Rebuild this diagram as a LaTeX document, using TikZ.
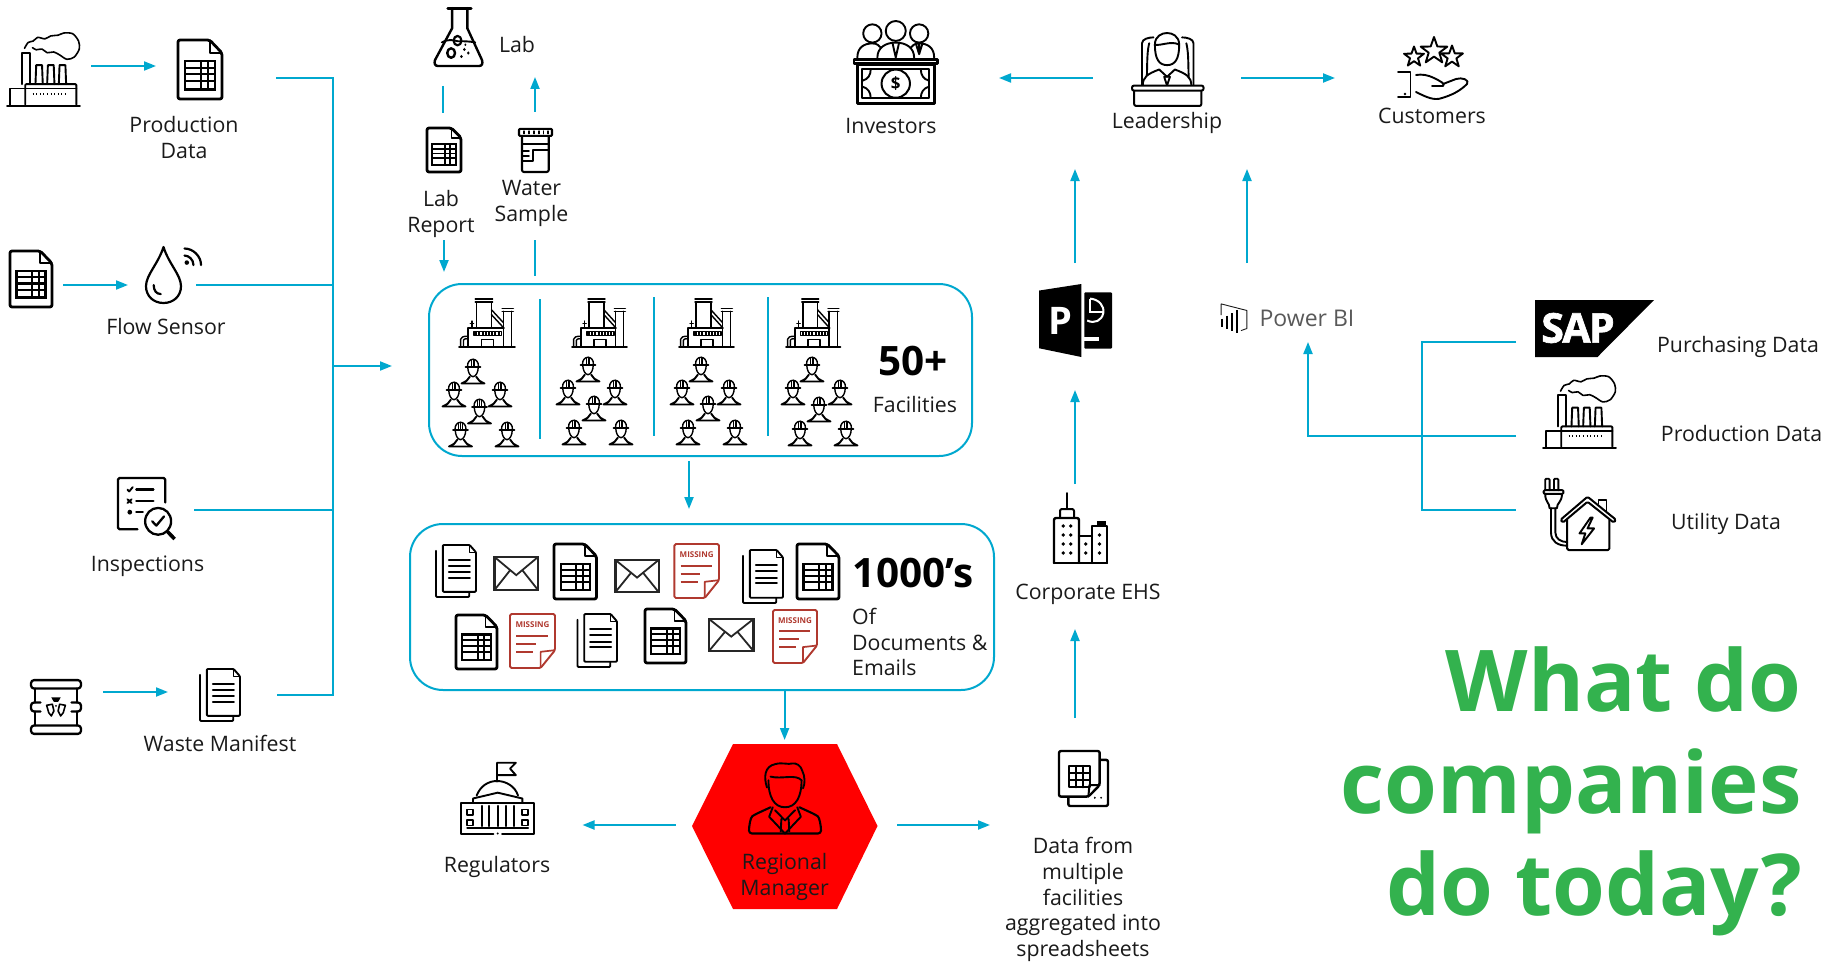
\documentclass[tikz,border=0pt]{standalone}
\usepackage{fontspec}
\setmainfont{Open Sans}
\newfontfamily\sapfont[BoldFeatures={FakeBold=1.6},LetterSpace=-4]{Open Sans}
\usetikzlibrary{arrows.meta}
\definecolor{flow}{HTML}{00A8CF}
\definecolor{ink}{HTML}{1A1A1A}
\definecolor{miss}{HTML}{B0392F}
\definecolor{titlegreen}{HTML}{33B24E}
\newcounter{missc}
\tikzset{
  conn/.style={draw=flow,line width=2pt},
  arrowconn/.style={conn,-{Triangle[length=12pt,width=9pt]}},
  panel/.style={draw=flow,line width=2pt,rounded corners=33pt,rectangle,inner sep=0pt},
  sep/.style={draw=flow,line width=2pt},
  lbl/.style={font=\fontsize{21.3}{25.7}\selectfont,text=ink,align=center,inner sep=0pt},
  big/.style={font=\fontsize{40.5}{46}\selectfont\bfseries,text=black,inner sep=0pt},
  ic/.style={draw=black,line width=1.9pt,line join=round,line cap=round},
  icb/.style={draw=black,line width=2.8pt,line join=round,line cap=round},
  ict/.style={draw=black,line width=1.4pt,line join=round,line cap=round},
}
\newcommand\ico[5]{\pgfmathsetmacro\icw{((#3)-(#1))/100}\pgfmathsetmacro\ich{((#4)-(#2))/100}%
  \begin{scope}[shift={(#1,#2)},x=\icw pt,y=-\ich pt]#5\end{scope}}
% ---------- icons drawn in a 100 x 100 box ----------
\newcommand\smokefactory{%
  \draw[ic] (0,100)--(100,100);
  \draw[ic,rounded corners=1pt] (25,98)--(25,70)--(95,70)--(95,98);
  \draw[ic] (25,76)--(95,76);
  \draw[ic] (4,98)--(4,76)--(25,76);
  \draw[ic] (21,70)--(21,27)--(32,27)--(32,70);
  \draw[ic] (39,70)--(40,44)--(48,44)--(49,70) (55,70)--(56,44)--(64,44)--(65,70) (71,70)--(72,44)--(80,44)--(81,70);
  \draw[line width=2pt,dash pattern=on 1pt off 2.6pt] (35,84)--(84,84);
  \draw[ic,line width=1.6pt] plot[smooth] coordinates {(24,21) (29,13) (36,11) (42,6) (52,8) (60,4) (70,3) (78,0) (90,1) (98,11) (99,22) (92,33) (82,36) (72,30) (64,26) (55,27) (48,22) (40,23) (35,20)};
}
\newcommand\sheeticon{%
  \draw[icb,fill=white,rounded corners=2pt] (0,0)--(72,0)--(100,22)--(100,100)--(0,100)--cycle;
  \draw[ic] (72,0)--(72,22)--(100,22);
  \fill[black] (13,34) rectangle (87,86);
  \foreach \yy/\yb in {38/45,49/56,60/67,71/81}{
    \fill[white] (18,\yy) rectangle (50,\yb);
    \fill[white] (55,\yy) rectangle (66,\yb);
    \fill[white] (71,\yy) rectangle (82,\yb);
  }
}
\newcommand\docstack{%
  \draw[ic,rounded corners=1pt] (0,11)--(0,100)--(83,100)--(83,90);
  \draw[ic,fill=white,rounded corners=1pt] (17,0)--(84,0)--(100,14)--(100,90)--(17,90)--cycle;
  \draw[ict] (84,0)--(84,14)--(100,14);
  \foreach \yy in {28,40,52,63}{\draw[ic] (32,\yy)--(85,\yy);}
}
\newcommand\envelope{%
  \draw[draw=black!85,line width=2.2pt] (0,0) rectangle (100,100);
  \draw[draw=black!85,line width=1.8pt] (0,0)--(50,55)--(100,0) (0,100)--(36,40) (100,100)--(64,40);
}
\newcommand\missingdoc{%
  \stepcounter{missc}%
  \draw[draw=miss,line width=1.9pt,line join=round,rounded corners=1.5pt,fill=white] (0,0)--(100,0)--(100,67)--(68,100)--(0,100)--cycle;
  \draw[draw=miss,line width=1.7pt,line join=round] (100,67)--(68,70)--(68,100);
  \node[text=miss,font=\fontsize{8}{8}\selectfont\bfseries,inner sep=0pt] (missing\themissc) at (50,20) {MISSING};
  \foreach \xe/\yy in {84/40,58/55,52/70}{\draw[draw=miss,line width=1.9pt] (14,\yy)--(\xe,\yy);}
}
\newcommand\worker{%
  \draw[ict,fill=white] (27,34) .. controls (28,55) and (36,70) .. (50,72) .. controls (64,70) and (72,55) .. (73,34);
  \draw[ict] (26,33) .. controls (26,15) and (36,5) .. (50,5) .. controls (64,5) and (74,15) .. (74,33);
  \draw[ic] (18,34)--(82,34);
  \draw[ict,line width=1pt] (42,8)--(42,32) (58,8)--(58,32) (50,4)--(50,32);
  \draw[ic] (0,98)--(22,88)--(36,72) (100,98)--(78,88)--(64,72) (0,98)--(100,98);
}
\newcommand\refinery{%
  \draw[ic] (0,100)--(100,100);
  \draw[ict] (31,8)--(31,60) (58,8)--(58,60) (29,2)--(60,2) (29,8)--(60,8);
  \draw[ict] (79,27)--(79,100) (94,27)--(94,100) (77,22)--(97,22) (77,28)--(97,28);
  \draw[ict] (58,24)--(79,50) (58,34)--(79,60);
  \draw[ic] (16,100)--(16,61)--(80,61);
  \draw[ict] (27,68) rectangle (76,76);
  \draw[line width=3pt,dash pattern=on 2pt off 1.2pt] (29,72)--(74,72);
  \draw[ict] (40,100)--(40,85)--(62,85)--(62,100);
  \draw[ict] (23,47)--(23,61) (20,52)--(26,52);
  \draw[ict] (3,100)--(3,84) .. controls (3,80) and (8,78) .. (15,78) (8,100)--(8,86) .. controls (8,84) and (11,83) .. (15,83);
}
\newcommand\flask{%
  \draw[icb] (28,2)--(76,2);
  \draw[ic,line width=2.4pt] (37,2)--(37,36)--(2,90) .. controls (0,96) and (2,100) .. (8,100)--(92,100) .. controls (98,100) and (100,96) .. (98,90)--(68,36)--(68,2);
  \draw[ic] (16,60) .. controls (30,54) and (38,56) .. (48,58) .. controls (60,58) and (72,58) .. (84,60);
  \draw[ic,line width=2.2pt] (48,57) circle (8);
  \draw[ic,line width=2.4pt] (35,78) circle (8);
  \fill (62,72) circle (2.8) (70,78) circle (2.8) (56,84) circle (2.8) (64,64) circle (2.2);
}
\newcommand\samplejar{%
  \draw[ic,line width=2.1pt,rounded corners=1pt] (0,2) rectangle (100,18);
  \draw[ict] (15,7)--(15,13) (30,7)--(30,13) (45,7)--(45,13) (60,7)--(60,13) (75,7)--(75,13) (88,7)--(88,13);
  \draw[ic,line width=2.1pt,rounded corners=2pt] (9,18)--(9,100)--(90,100)--(90,18);
  \draw[ic] (9,36)--(90,36) (9,76)--(42,76)--(42,50)--(90,50);
  \draw[ic] (9,52)--(30,52) (9,64)--(30,64);
}
\newcommand\drop{%
  \draw[ic,line width=2.2pt] (50,0) .. controls (35,30) and (0,50) .. (0,70) .. controls (0,88) and (22,100) .. (50,100) .. controls (78,100) and (100,88) .. (100,70) .. controls (100,50) and (65,30) .. (50,0) -- cycle;
  \draw[ic,line width=2.2pt] (22,68) .. controls (22,78) and (30,84) .. (42,84);
}
\newcommand\wifi{%
  \fill (20,82) circle (12);
  \draw[ic,line width=2.2pt] (8,45) .. controls (30,45) and (55,65) .. (55,95);
  \draw[ic,line width=2.2pt] (8,8) .. controls (55,8) and (95,50) .. (95,95);
}
\newcommand\inspect{%
  \draw[ic,line width=2.3pt,rounded corners=1.5pt] (33,84)--(0,84)--(0,0)--(80,0)--(80,40);
  \draw[ic,line width=2.3pt] (31,19)--(60,19) (31,38)--(60,38) (31,56)--(42,56);
  \draw[ic] (16,19)--(19,22)--(25,15) (16,35)--(23,41) (23,35)--(16,41);
  \fill (20,56) circle (4);
  \draw[ic,line width=2.3pt,fill=white] (68,71) circle (22);
  \draw[ic,line width=2.3pt] (58,71)--(65,78)--(78,63);
  \draw[line width=3.6pt] (84,88)--(96,100);
}
\newcommand\barrel{%
  \draw[ic,line width=2.3pt,rounded corners=3pt] (2,2) rectangle (98,17);
  \draw[ic,line width=2.3pt,rounded corners=3pt] (2,83) rectangle (98,98);
  \draw[ic,line width=2.3pt] (10,17)--(10,42) (90,17)--(90,42) (10,58)--(10,83) (90,58)--(90,83);
  \draw[ic,line width=2.3pt,rounded corners=3pt] (20,42)--(2,42)--(2,58)--(20,58);
  \draw[ic,line width=2.3pt,rounded corners=3pt] (80,42)--(98,42)--(98,58)--(80,58);
  \fill (41,33)--(59,33)--(54,41)--(46,41)--cycle;
  \draw[ic,line width=1.6pt] (32,47)--(43,45)--(46,57)--(41,66)--(36,60)--cycle;
  \draw[ic,line width=1.6pt] (68,47)--(57,45)--(54,57)--(59,66)--(64,60)--cycle;
  \fill (50,48) circle (2);
}
\newcommand\investors{%
  \foreach \hx/\hy/\hr in {22/15/11,78/15/11,50/12/12}{\draw[ic,fill=white] (\hx,\hy) circle (\hr);}
  \draw[ic] (4,44) .. controls (4,32) and (12,27) .. (22,27) .. controls (28,27) and (30,30) .. (32,32);
  \draw[ic] (96,44) .. controls (96,32) and (88,27) .. (78,27) .. controls (72,27) and (70,30) .. (68,32);
  \draw[ic] (28,44) .. controls (28,32) and (38,26) .. (50,26) .. controls (62,26) and (72,32) .. (72,44);
  \draw[ic] (46,26)--(50,44)--(54,26) (78,27)--(78,40) (74,27)--(78,40)--(82,27);
  \draw[icb,fill=white] (0,46) rectangle (100,51);
  \draw[icb] (4,52) rectangle (96,99);
  \draw[ic,line width=2.1pt] (10,58) rectangle (90,93);
  \draw[ic,line width=2pt] (50,75.5) circle (17);
  \node[font=\fontsize{17}{17}\selectfont\bfseries,inner sep=0pt] (dollar) at (50,75.5) {\$};
  \draw[ic] (10,72) .. controls (17,70) and (20,65) .. (20,58) (90,72) .. controls (83,70) and (80,65) .. (80,58) (10,79) .. controls (17,81) and (20,86) .. (20,93) (90,79) .. controls (83,81) and (80,86) .. (80,93);
}
\newcommand\leader{%
  \draw[ic] (14,72)--(14,14) .. controls (14,8) and (24,6) .. (30,6) (86,72)--(86,14) .. controls (86,8) and (76,6) .. (70,6);
  \draw[ic] (20,72) .. controls (22,50) and (20,30) .. (24,14);
  \draw[ic] (80,72) .. controls (78,50) and (80,30) .. (76,14);
  \draw[ic,fill=white] (32,16) .. controls (32,36) and (38,44) .. (49,44) .. controls (60,44) and (66,36) .. (66,16) .. controls (66,4) and (56,0) .. (49,0) .. controls (42,0) and (32,4) .. (32,16)--cycle;
  \draw[ic] (32,16) .. controls (40,18) and (55,10) .. (66,16);
  \draw[ic,fill=white] (15,72) .. controls (15,60) and (22,56) .. (38,50)--(49,60)--(60,50) .. controls (76,56) and (83,60) .. (83,72);
  \draw[ic] (45,60)--(49,72)--(53,60)--cycle;
  \draw[ic,line width=2pt,rounded corners=2pt,fill=white] (0,72) rectangle (100,79);
  \draw[ic,line width=2pt,rounded corners=2pt] (3,79)--(3,100)--(97,100)--(97,79);
}
\newcommand\hstar[3]{\begin{scope}[shift={(#1,#2)},scale=#3]
  \draw[ic] (0,-1)--(.24,-.32)--(.95,-.31)--(.38,.12)--(.59,.81)--(0,.4)--(-.59,.81)--(-.38,.12)--(-.95,-.31)--(-.24,-.32)--cycle;\end{scope}}
\newcommand\customers{%
  \hstar{24}{32}{10.5}\hstar{44}{26}{14}\hstar{62}{32}{11.5}
  \draw[ic] (8,47)--(20.5,47)--(20.5,72)--(8,72);
  \fill (15,69) circle (1.3);
  \draw[ic] (26,50) .. controls (32,49) and (38,50) .. (44,53) .. controls (50,56) and (56,59) .. (53,61) -- (42,61);
  \draw[ic] (53,59)--(66,54) .. controls (72,52) and (80,55) .. (77,59) .. controls (70,66) and (62,70) .. (52,73) .. controls (44,76) and (36,72) .. (26,67);
}
\newcommand\ppticon{%
  \fill (0,9)--(58,0)--(58,100)--(0,88)--cycle;
  \fill[rounded corners=1pt] (62,11.5) rectangle (100,88.5);
  \node[text=white,font=\fontsize{38}{38}\selectfont\bfseries,inner sep=0pt] (pptletter) at (29,50) {P};
  \draw[white,line width=2pt] (70,20) .. controls (82,21) and (90,30) .. (88,40) .. controls (86,50) and (76,55) .. (66,50);
  \draw[white,line width=2pt] (70,20)--(70,38)--(88,38);
  \fill[white] (62,73) rectangle (82,78);
}
\newcommand\pbiicon{%
  \draw[draw=ink,line width=.9pt,line join=round] (4,40)--(4,3)--(96,25)--(96,85)--(75,92);
  \draw[line width=2.4pt] (8,52)--(8,80) (24,42)--(24,86) (42,34)--(42,92) (61,24)--(61,100);
}
\newcommand\ehs{%
  \draw[ic,line width=2pt] (26.7,8)--(26.7,23);
  \draw[ic,line width=2pt,rounded corners=2pt] (20,33)--(20,24)--(34,24)--(34,33);
  \draw[ic,line width=2.4pt,rounded corners=2pt] (14,78)--(14,33)--(39,33)--(39,78);
  \draw[ic,line width=2.4pt] (39,51)--(52,51);
  \draw[ic,line width=2.4pt] (52,78)--(52,41)--(67,41)--(67,78);
  \fill (57,36) rectangle (66,41);
  \draw[ic,line width=2.4pt] (14,78)--(67,78);
  \foreach \yy in {41,50,59,68}{\fill (23.3,\yy) circle (1.9) (30.7,\yy) circle (1.9);}
  \foreach \yy in {59,68}{\fill (45.7,\yy) circle (1.9);}
  \foreach \yy in {50,59,68}{\fill (59.5,\yy) circle (1.9);}
}
\newcommand\datasheets{%
  \draw[ic,line width=2.4pt,rounded corners=2pt] (83,16)--(100,16)--(100,100)--(19,100)--(19,83);
  \draw[ic,line width=2.4pt,rounded corners=2pt,fill=white] (60,83)--(0,83)--(0,0)--(83,0)--(83,62)--cycle;
  \draw[ic,line width=2pt] (60,83)--(62,62)--(83,62);
  \draw[ic,line width=2.2pt] (21,27) rectangle (63,66) (21,40)--(63,40) (21,53)--(63,53) (35,27)--(35,66) (49,27)--(49,66);
  \fill (73,85) circle (2) (86,85) circle (2);
}
\newcommand\manager{%
  \draw[ic] (27,25) .. controls (27,48) and (35,62) .. (50,62) .. controls (65,62) and (73,48) .. (73,25) .. controls (65,16) and (45,24) .. (30,20);
  \draw[ic] (25,35) .. controls (20,20) and (22,6) .. (36,3) .. controls (46,0) and (55,4) .. (60,2) .. controls (66,1) and (72,5) .. (74,12) .. controls (78,20) and (78,30) .. (75,36);
  \draw[ic,line width=2.1pt,rounded corners=3pt] (30,62)--(8,72) .. controls (2,76) and (0,88) .. (0,98)--(100,98) .. controls (100,88) and (98,76) .. (92,72)--(70,62);
  \draw[ic] (33,62)--(28,75)--(50,98)--(72,75)--(67,62) (36,66)--(50,80)--(64,66) (45,78)--(44,95) (55,78)--(56,95);
}
\newcommand\capitol{%
  \draw[ic] (49,27)--(49,1)--(75,1)--(67,9)--(75,18)--(49,18);
  \draw[ic] (21,46) .. controls (26,33) and (37,26) .. (49,26) .. controls (61,26) and (74,33) .. (78,46);
  \draw[ic] (16,56)--(16,50)--(50,42)--(84,50)--(84,56);
  \draw[ic,line width=2.1pt] (0,56)--(100,56)--(100,99)--(56,99) (44,99)--(0,99)--(0,56);
  \foreach \xx in {28,38,50,62,72}{\draw[ic] (\xx,60)--(\xx,88);}
  \draw[ic] (8,90)--(92,90);
  \foreach \xx in {8,84}{\draw[ic] (\xx,65) rectangle (\xx+8,73); \draw[ic] (\xx,79) rectangle (\xx+8,87);}
  \fill (50,98) circle (1.5);
}
\newcommand\utilityhouse{%
  \draw[ic,rounded corners=1pt] (3,17)--(3,1)--(9,1)--(9,17) (15,17)--(15,1)--(21,1)--(21,17);
  \draw[ic,line width=2pt,rounded corners=1pt] (1,17) rectangle (28,22);
  \draw[ic] (3,22) .. controls (3,34) and (9,34) .. (9,42)--(19,42) .. controls (19,34) and (26,34) .. (26,22);
  \draw[ic] (11,42)--(11,76) .. controls (11,88) and (20,94) .. (33,94);
  \draw[ic] (17,42)--(17,76) .. controls (17,84) and (24,89) .. (33,89);
  \draw[ic,line width=2pt,rounded corners=1.5pt] (24,58)--(61,26)--(100,58)--(97,62)--(61,33)--(27,62)--cycle;
  \draw[ic,line width=2pt,rounded corners=1.5pt] (33,58)--(33,100)--(91,100)--(91,58);
  \draw[ic] (76,36)--(76,30)--(87,30)--(87,46);
  \draw[ic] (65,55)--(50,77)--(58,77)--(53,92)--(70,70)--(61,70)--(68,55)--cycle;
}
\begin{document}
\begin{tikzpicture}[x=1pt,y=-1pt]
\useasboundingbox (0,0) rectangle (1831,963);
\fill[white] (0,0) rectangle (1831,963);

% ---------- panels ----------
\node[panel,minimum width=543pt,minimum height=172pt] (facilitiesbox) at (700.5,370) {};
\node[panel,minimum width=584pt,minimum height=166pt] (documentsbox) at (702,607) {};
\draw[sep] (540,299)--(540,439) (654,297)--(654,436) (768,297)--(768,436);
\fill[red] (692,826)--(733,744)--(837,744)--(877.5,826)--(837,909)--(733,909)--cycle;
\coordinate (managerhex) at (784.6,826);

% ---------- icons ----------
\ico{7}{33}{80}{106}{\smokefactory}
\ico{178}{40}{222}{99}{\sheeticon}
\ico{10}{251}{52}{307}{\sheeticon}
\ico{146}{247}{181}{303}{\drop}
\ico{183}{247}{202}{266}{\wifi}
\ico{118}{478}{177}{539}{\inspect}
\ico{30}{679}{82}{735}{\barrel}
\ico{200}{669}{240}{721}{\docstack}
\ico{434}{7}{483}{66}{\flask}
\ico{427}{128}{461}{172}{\sheeticon}
\ico{519}{128}{552}{172}{\samplejar}
\ico{459}{298}{515}{347}{\refinery}
\ico{572}{298}{627}{347}{\refinery}
\ico{679}{298}{734}{347}{\refinery}
\ico{786}{298}{840.5}{347}{\refinery}
\foreach \wx/\wy in {473/371,454/394,500/394,479.5/411,460.5/434,507/434,
  588/369,568/392,615/392,594/408,574/432,621/432,
  701/369,682/392,729/392,708/408,688/432,735/432,
  812/369,793/392,840/392,819/409,800/433,846/433}{
  \ico{\wx-11.5}{\wy-13}{\wx+11.5}{\wy+13}{\worker}
}
\ico{436}{545}{476}{597}{\docstack}
\ico{494.5}{557}{538}{590}{\envelope}
\ico{554}{544}{596.5}{599}{\sheeticon}
\ico{615.5}{560}{658.6}{592}{\envelope}
\ico{674.4}{544}{719}{598}{\missingdoc}
\ico{743}{550}{783}{603}{\docstack}
\ico{797}{544}{839}{599}{\sheeticon}
\ico{456}{615}{497}{669}{\sheeticon}
\ico{510}{614}{555}{668}{\missingdoc}
\ico{577.5}{614}{617}{667}{\docstack}
\ico{645}{609}{686}{663}{\sheeticon}
\ico{709}{619}{753.5}{651}{\envelope}
\ico{773}{610}{817}{663}{\missingdoc}
\ico{749}{762}{821}{835}{\manager}
\ico{461.4}{762}{534}{835}{\capitol}
\ico{1059}{751}{1108}{806}{\datasheets}
\ico{1040}{485}{1140}{585}{\ehs}
\ico{1039}{284}{1112}{357}{\ppticon}
\ico{1220}{303}{1248}{333}{\pbiicon}
\ico{854}{21}{937.5}{104}{\investors}
\ico{1132}{33}{1203.5}{106}{\leader}
\ico{1390}{25}{1490}{125}{\customers}
\ico{1543}{376}{1616}{448}{\smokefactory}
\ico{1543}{478}{1616}{550}{\utilityhouse}
\fill[black] (1535,300)--(1654,300)--(1597.5,357)--(1535,357)--cycle;
\node[text=white,font=\fontsize{41}{41}\sapfont\bfseries,inner sep=0pt] (saplogo) at (1578,328) {SAP};

% ---------- labels ----------
\node[lbl] (lproduction) at (184,137.5) {Production\\Data};
\node[lbl] (lflow) at (166,327) {Flow Sensor};
\node[lbl] (linspections) at (147.5,566) {Inspections};
\node[lbl] (lwaste) at (220,743.5) {Waste Manifest};
\node[lbl] (llab) at (517,45) {Lab};
\node[lbl] (lreport) at (441,214) {Lab\\Report};
\node[lbl] (lwater) at (531.5,203.5) {Water\\Sample};
\node[big] (lfifty) at (913,361) {50+};
\node[lbl] (lfacilities) at (915,405) {Facilities};
\node[big] (lthousand) at (913,573) {1000’s};
\node[lbl,anchor=west,align=left] (ldocs) at (852,642) {Of\\Documents \&\\Emails};
\node[lbl] (lmanager) at (784.6,877) {Regional\\Manager};
\node[lbl] (lregulators) at (497,867) {Regulators};
\node[lbl] (ldata) at (1083,899.5) {Data from\\multiple\\facilities\\aggregated into\\spreadsheets};
\node[lbl] (lehs) at (1088,594) {Corporate EHS};
\node[lbl] (linvestors) at (891,126) {Investors};
\node[lbl] (lleadership) at (1167,122.5) {Leadership};
\node[lbl] (lcustomers) at (1432,116) {Customers};
\node[lbl,text=black!65,font=\fontsize{23}{28}\selectfont] (lpowerbi) at (1307,318) {Power BI};
\node[lbl] (lpurchasing) at (1738,347) {Purchasing Data};
\node[lbl] (lproddata) at (1741.6,433.5) {Production Data};
\node[lbl] (lutility) at (1726,524) {Utility Data};
\node[anchor=north east,align=right,inner sep=0pt,text=titlegreen,font=\fontsize{85.3}{102}\selectfont\bfseries] (ltitle) at (1802,646) {What do\\companies\\do today?};

% ---------- connector end points ----------
\coordinate (a1s) at (91,66); \coordinate (a1e) at (156,66);
\coordinate (a2s) at (63,285); \coordinate (a2e) at (128,285);
\coordinate (a3s) at (103,692); \coordinate (a3e) at (168,692);
\coordinate (busTop) at (333,78); \coordinate (busBot) at (333,695);
\coordinate (busA) at (276,78); \coordinate (busB) at (196,284.5); \coordinate (busBj) at (333,284.5);
\coordinate (busC) at (194,510); \coordinate (busCj) at (333,510); \coordinate (busD) at (277,695);
\coordinate (mainS) at (334,366); \coordinate (mainE) at (392,366);
\coordinate (labL1) at (443,86); \coordinate (labL2) at (443,113);
\coordinate (labA1) at (535,112); \coordinate (labA2) at (535,77);
\coordinate (repS) at (444,240); \coordinate (repE) at (444,272);
\coordinate (watS) at (535,240); \coordinate (watE) at (535,276);
\coordinate (fdS) at (689,461); \coordinate (fdE) at (689,509);
\coordinate (dmS) at (784.6,690); \coordinate (dmE) at (784.6,740);
\coordinate (mrS) at (675.5,825); \coordinate (mrE) at (582.5,825);
\coordinate (mdS) at (897,825); \coordinate (mdE) at (990,825);
\coordinate (deS) at (1075,718); \coordinate (deE) at (1075,629);
\coordinate (epS) at (1075,484); \coordinate (epE) at (1075,390);
\coordinate (plS) at (1075,263); \coordinate (plE) at (1075,169);
\coordinate (blS) at (1247,263); \coordinate (blE) at (1247,169);
\coordinate (liS) at (1092.5,78); \coordinate (liE) at (999,78);
\coordinate (lcS) at (1241,78); \coordinate (lcE) at (1335,78);
\coordinate (sapS) at (1516,341.5); \coordinate (sapC) at (1422,341.5);
\coordinate (utlS) at (1516,510); \coordinate (utlC) at (1422,510);
\coordinate (prdS) at (1516,436); \coordinate (prdC) at (1308,436); \coordinate (prdE) at (1308,342);

% ---------- connectors ----------
\draw[arrowconn] (a1s)--(a1e);
\draw[arrowconn] (a2s)--(a2e);
\draw[arrowconn] (a3s)--(a3e);
\draw[conn] (busA)--(busTop)--(busBot)--(busD);
\draw[conn] (busB)--(busBj);
\draw[conn] (busC)--(busCj);
\draw[arrowconn] (mainS)--(mainE);
\draw[conn] (labL1)--(labL2);
\draw[arrowconn] (labA1)--(labA2);
\draw[arrowconn] (repS)--(repE);
\draw[conn] (watS)--(watE);
\draw[arrowconn] (fdS)--(fdE);
\draw[arrowconn] (dmS)--(dmE);
\draw[arrowconn] (mrS)--(mrE);
\draw[arrowconn] (mdS)--(mdE);
\draw[arrowconn] (deS)--(deE);
\draw[arrowconn] (epS)--(epE);
\draw[arrowconn] (plS)--(plE);
\draw[arrowconn] (blS)--(blE);
\draw[arrowconn] (liS)--(liE);
\draw[arrowconn] (lcS)--(lcE);
\draw[conn] (sapS)--(sapC)--(utlC)--(utlS);
\draw[arrowconn] (prdS)--(prdC)--(prdE);
\end{tikzpicture}
\end{document}
